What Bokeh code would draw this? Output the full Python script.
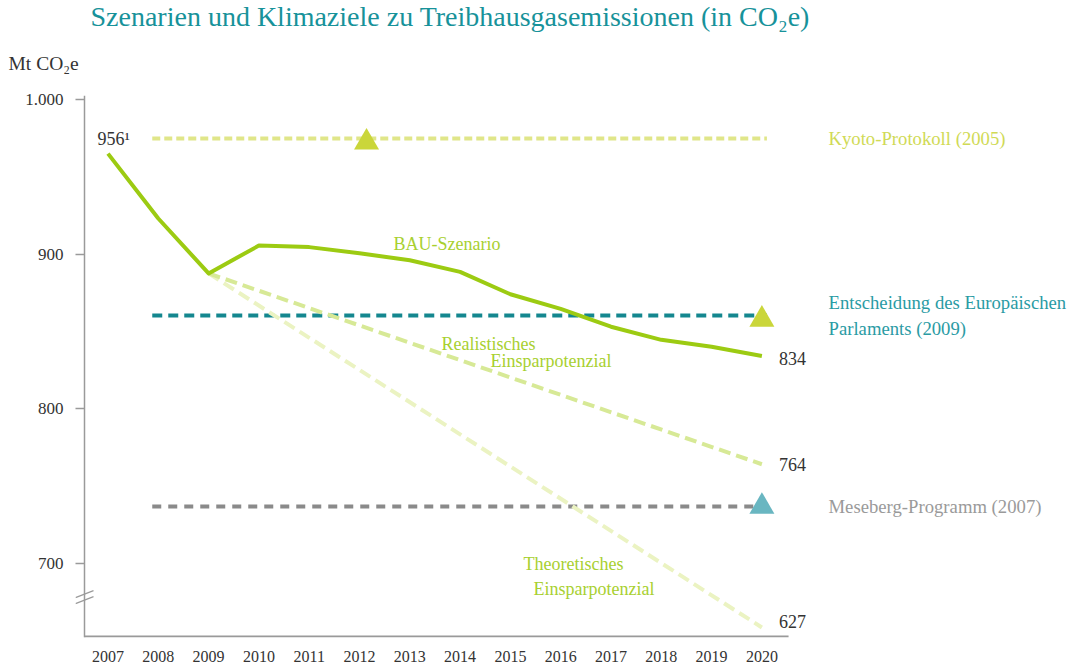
from bokeh.plotting import figure
from bokeh.models import Range1d, FixedTicker, Title
from bokeh.core.properties import value
from bokeh.embed import file_html
from bokeh.resources import INLINE

FONT = "Liberation Serif"

# ---------------- data ----------------
years = list(range(2007, 2021))
bau_values = [965, 923, 887.5, 905.5, 904.5, 900.5, 896, 888.5, 874, 864.5, 853, 844.5, 840, 834]
scenario_years = [2009, 2020]
realistic_values = [887.5, 764]
theoretical_values = [887.5, 627]
target_names = ["Kyoto-Protokoll (2005)",
                "Entscheidung des Europäischen\nParlaments (2009)",
                "Meseberg-Programm (2007)"]
target_values = [974.8, 860.3, 736.7]
target_from = [2007.88, 2007.88, 2007.88]
target_to = [2020.1, 2020.1, 2020.1]
marker_years = [2012.14, 2020.0, 2020.0]
marker_values = [972.3, 857.7, 736.6]
y_ticks = [700, 800, 900, 1000]
y_tick_labels = ["700", "800", "900", "1.000"]
start_label = "956\u00b9"
title_text = "Szenarien und Klimaziele zu Treibhausgasemissionen (in CO\u2082e)"
unit_text = "Mt CO\u2082e"

# ---------------- styling ----------------
TEAL = "#17929a"
BAU_C = "#9ccb12"
REAL_C = "#d7e996"
THEO_C = "#ebf3c2"
LABEL_GREEN = "#a8d030"
TARGET_LINE = ["#e0e689", "#14878f", "#8a8a8a"]
TARGET_TEXT = ["#d0da55", "#2a9ba4", "#9a9a9a"]
TARGET_MARK = ["#cad63a", "#cad63a", "#69b6c1"]
TARGET_DASH = ["8 4", "10 6", "9 7"]
AXIS_C = "#9a9a9a"
DARK = "#333333"

# axis break below 700
BREAK_AT = 700
BREAK_FACTOR = 0.57


def shown(v):
    return v if v >= BREAK_AT else BREAK_AT - (BREAK_AT - v) * BREAK_FACTOR


XPX = 1 / 50.3      # years per pixel
YPX = 1 / 1.5457    # units per pixel
X0 = 2006.354
X1 = X0 + 994 * XPX
Y0, Y1 = 651.9, 1002.6
X_SPINE = X0 + 9 * XPX

p = figure(width=1069, height=668, output_backend="svg", toolbar_location=None,
           x_range=Range1d(X0, X1), y_range=Range1d(Y0, Y1), title_location=None,
           min_border_left=75, min_border_right=0, min_border_top=95, min_border_bottom=31)
p.outline_line_color = None
p.grid.grid_line_color = None
p.background_fill_color = "white"
p.border_fill_color = "white"

# y axis (ticks drawn inward up to the spine)
p.yaxis.ticker = FixedTicker(ticks=y_ticks)
p.yaxis.major_label_overrides = {t: l for t, l in zip(y_ticks, y_tick_labels)}
p.yaxis.axis_line_color = None
p.yaxis.major_tick_line_color = AXIS_C
p.yaxis.major_tick_line_width = 1.5
p.yaxis.major_tick_in = 9
p.yaxis.major_tick_out = 0
p.yaxis.minor_tick_line_color = None
p.yaxis.major_label_text_font = FONT
p.yaxis.major_label_text_font_size = "17px"
p.yaxis.major_label_text_color = DARK
p.yaxis.major_label_standoff = 12

# x axis
p.xaxis.ticker = FixedTicker(ticks=years)
p.xaxis.axis_line_color = None
p.xaxis.major_tick_line_color = None
p.xaxis.minor_tick_line_color = None
p.xaxis.major_tick_in = 0
p.xaxis.major_tick_out = 0
p.xaxis.major_label_text_font = FONT
p.xaxis.major_label_text_font_size = "16px"
p.xaxis.major_label_text_color = DARK
p.xaxis.major_label_standoff = 13

# spine and bottom axis line (stops after 2020)
p.segment(x0=[X_SPINE], y0=[Y0], x1=[X_SPINE], y1=[Y1], line_color=AXIS_C, line_width=1.5)
p.segment(x0=[X_SPINE], y0=[Y0 + 1 * YPX], x1=[2020.53], y1=[Y0 + 1 * YPX],
          line_color=AXIS_C, line_width=2)

# axis break marks
BREAK_MARK = 678
for dy in (3.0, -3.0):
    p.segment(x0=[X_SPINE - 9 * XPX], y0=[BREAK_MARK + (dy - 3.5) * YPX],
              x1=[X_SPINE + 9 * XPX], y1=[BREAK_MARK + (dy + 3.5) * YPX],
              line_color=AXIS_C, line_width=1.2)

# target lines
for i in range(3):
    p.segment(x0=[target_from[i]], y0=[target_values[i]], x1=[target_to[i]], y1=[target_values[i]],
              line_color=TARGET_LINE[i], line_width=4, line_dash=TARGET_DASH[i])

# scenario lines
p.line(scenario_years, [shown(v) for v in theoretical_values], line_color=THEO_C,
       line_width=4, line_dash="12 6")
p.line(scenario_years, [shown(v) for v in realistic_values], line_color=REAL_C,
       line_width=4, line_dash="12 6")
p.line(years, bau_values, line_color=BAU_C, line_width=4, line_join="round")

# target markers
p.scatter(marker_years, marker_values, marker="triangle", size=25,
          fill_color=TARGET_MARK, line_color=None)

# target labels
for i in range(3):
    p.text(x=[2021.324], y=[target_values[i]], text=[target_names[i]],
           text_font=value(FONT), text_font_size="18.7px", text_color=TARGET_TEXT[i],
           text_baseline="middle", text_align="left", text_line_height=1.2)

# scenario labels
scen_x = [2012.676, 2013.630, 2014.604, 2015.260, 2015.459]
scen_y = [906.8, 841.5, 830.5, 699.2, 683.6]
scen_t = ["BAU-Szenario", "Realistisches", "Einsparpotenzial", "Theoretisches", "Einsparpotenzial"]
p.text(x=scen_x, y=scen_y, text=scen_t, text_font=value(FONT), text_font_size="18px",
       text_color=LABEL_GREEN, text_baseline="middle", text_align="left")

# end values
ends = [bau_values[-1], realistic_values[-1], theoretical_values[-1]]
end_dy = [2, 0, -6]
for v, dy in zip(ends, end_dy):
    p.text(x=[years[-1]], y=[shown(v)], text=[str(int(round(v)))], x_offset=17, y_offset=dy,
           text_font=value(FONT), text_font_size="18px", text_color=DARK,
           text_baseline="middle", text_align="left")

# start label
p.text(x=[years[0]], y=[bau_values[0]], text=[start_label], x_offset=22, y_offset=-15,
       text_font=value(FONT), text_font_size="18px", text_color=DARK,
       text_baseline="middle", text_align="right")

# unit label (closest to frame) and main title above it
p.add_layout(Title(text=unit_text, align="left", offset=-67, standoff=39, vertical_align="top",
                   text_font=FONT, text_font_size="19.5px", text_color=DARK,
                   text_font_style="normal"), "above")
p.add_layout(Title(text=title_text, align="left", offset=15, standoff=0, vertical_align="top",
                   text_font=FONT, text_font_size="28px", text_color=TEAL,
                   text_font_style="normal"), "above")

open("out.html", "w").write(file_html(p, INLINE))
